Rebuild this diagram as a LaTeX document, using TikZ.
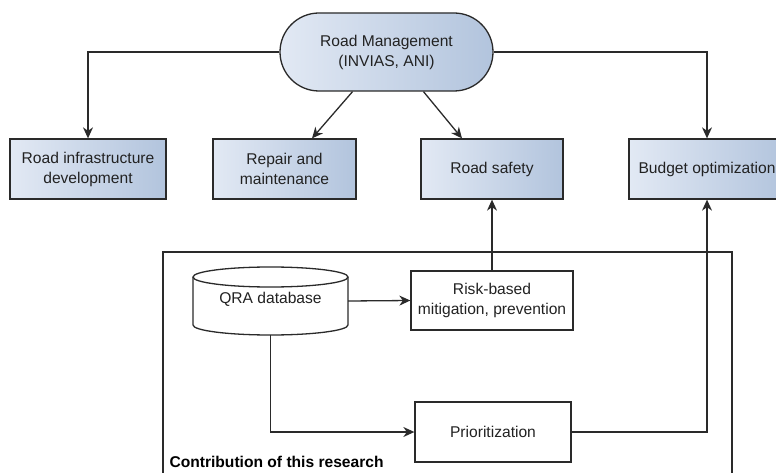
\documentclass[tikz,border=0pt]{standalone}
\usepackage{fontspec}
\setmainfont{Liberation Sans}
\usetikzlibrary{arrows.meta,shapes.misc,calc}

\definecolor{boxleft}{HTML}{E2E9F4}
\definecolor{boxright}{HTML}{B2C4DD}
\definecolor{linecol}{HTML}{2A2A2A}
\definecolor{txtcol}{HTML}{222222}

\tikzset{
  every node/.style={font=\fontsize{15.6}{20}\selectfont, text=txtcol},
  shaded/.style={draw=linecol, line width=1.3pt, left color=boxleft, right color=boxright},
  topic/.style={shaded, rectangle, inner sep=0pt, minimum height=60pt, align=center},
  plainbox/.style={draw=linecol, line width=1.3pt, fill=white, rectangle, inner sep=0pt, align=center},
  arr/.style={draw=linecol, line width=1.3pt, -{Stealth[length=11pt,width=10pt,inset=3.5pt]}},
  link/.style={draw=linecol, line width=1.3pt}
}

\begin{document}
\begin{tikzpicture}[x=1pt,y=-1pt]
\useasboundingbox (0,0) rectangle (776,473);

% frame around the research contribution
\draw[link] (163,490) -- (163,252) -- (732,252) -- (732,490);
\node[anchor=west, font=\fontsize{15.6}{20}\selectfont\bfseries, text=black] (contrib) at (166,462) {Contribution of this research};

% management node
\node[shaded, rounded rectangle, minimum width=213pt, minimum height=78pt, inner sep=0pt, align=center] (rm) at (386.5,52) {Road Management\\(INVIAS, ANI)};

% areas of road management
\node[topic, minimum width=156pt] (infra) at (88,169) {Road infrastructure\\development};
\node[topic, minimum width=143pt] (repair) at (284.5,169) {Repair and\\maintenance};
\node[topic, minimum width=142pt] (safety) at (492,169) {Road safety};
\node[topic, minimum width=156pt] (budget) at (707,169) {Budget optimization};

% database cylinder (y axis points down, so arcs run through 90 degrees for the lower side)
\fill[white] (193,277) -- (193,325) arc[start angle=180, end angle=0, x radius=77.5, y radius=10] -- (348,277) arc[start angle=0, end angle=-180, x radius=77.5, y radius=10] -- cycle;
\draw[link] (193,277) -- (193,325) arc[start angle=180, end angle=0, x radius=77.5, y radius=10] -- (348,277);
\draw[link] (270.5,277) ellipse[x radius=77.5, y radius=10];
\node[inner sep=0pt, minimum width=155pt, minimum height=68pt] (qra) at (270.5,301) {};
\node at (270.5,299) {QRA database};

% research outputs
\node[plainbox, minimum width=162pt, minimum height=59pt] (risk) at (492,300.5) {Risk-based\\mitigation, prevention};
\node[plainbox, minimum width=156pt, minimum height=60pt] (prio) at (493,432) {Prioritization};

% connectors
\draw[arr] (rm.west) -| (infra.north);
\draw[arr] (rm.east) -| (budget.north);
\draw[arr] ([xshift=-34pt]rm.south) -- (repair.north -| 312,0);
\draw[arr] ([xshift=37pt]rm.south) -- (safety.north -| 462,0);
\draw[arr] (qra.east) -- (risk.west);
\draw[arr] (risk.north) -- (safety.south);
\draw[arr] (qra.south) |- (prio.west);
\draw[arr] (prio.east) -| (budget.south);
\end{tikzpicture}
\end{document}
